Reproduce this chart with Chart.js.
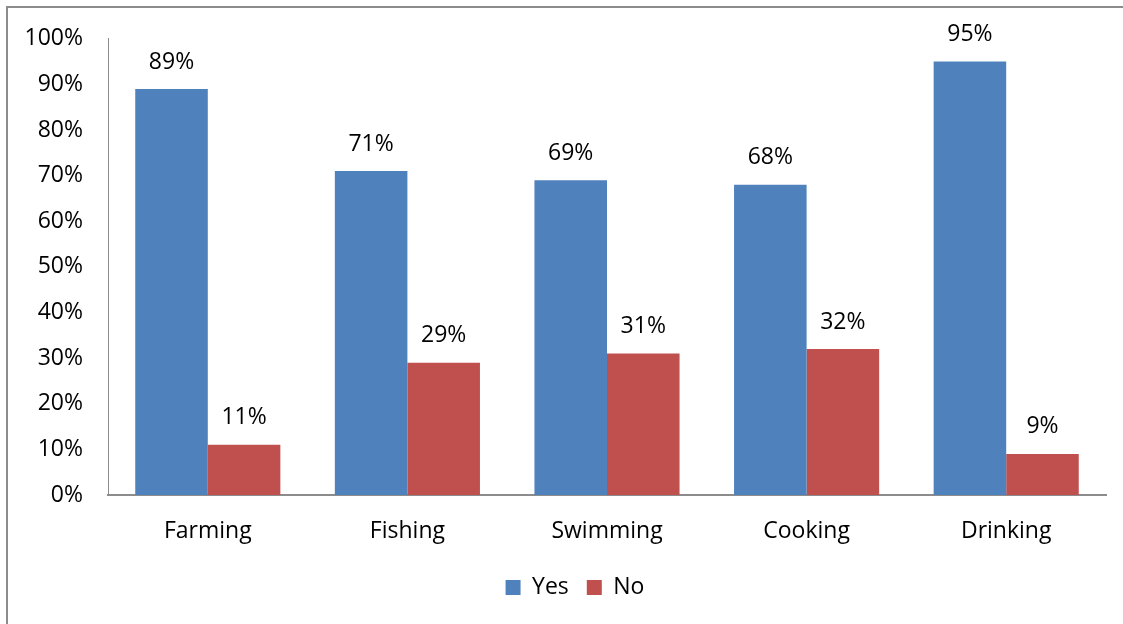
<!DOCTYPE html>
<html>
<head>
<meta charset="utf-8">
<script src="https://cdn.jsdelivr.net/npm/chart.js@4/dist/chart.umd.min.js"></script>
<style>
  body { margin: 0; background: #fff; }
  #wrap { position: relative; width: 1123px; height: 624px; }
  #frame { position: absolute; left: 6px; top: 6px; right: 0; bottom: -5px;
           border-left: 2px solid #8c8c8c; border-top: 2px solid #8c8c8c; pointer-events: none; }
  canvas { position: absolute; left: 0; top: 0; }
</style>
</head>
<body>
<div id="wrap">
  <canvas id="myChart" width="1123" height="624"></canvas>
  <div id="frame"></div>
</div>
<script>
// values
const categories = ['Farming', 'Fishing', 'Swimming', 'Cooking', 'Drinking'];
const yesValues = [89, 71, 69, 68, 95];
const noValues = [11, 29, 31, 32, 9];
const yTicks = [0, 10, 20, 30, 40, 50, 60, 70, 80, 90, 100];

const FONT = { family: "'Open Sans', sans-serif", size: 23 };

// draws the % above each bar
const valueLabels = {
  id: 'valueLabels',
  afterDatasetsDraw(chart) {
    const ctx = chart.ctx;
    ctx.save();
    ctx.font = FONT.size + 'px ' + FONT.family;
    ctx.fillStyle = '#000';
    ctx.textAlign = 'center';
    ctx.textBaseline = 'middle';
    chart.data.datasets.forEach((ds, i) => {
      chart.getDatasetMeta(i).data.forEach((bar, j) => {
        ctx.fillText(ds.data[j] + '%', bar.x, bar.y - 27);
      });
    });
    ctx.restore();
  }
};

// legend in the original sits a bit right of the canvas centre
const legendShift = {
  id: 'legendShift',
  afterLayout(chart) {
    if (chart.legend) {
      chart.legend.left += 44;
      chart.legend.right += 0;
    }
  }
};

new Chart(document.getElementById('myChart'), {
  type: 'bar',
  data: {
    labels: categories,
    datasets: [
      { label: 'Yes', data: yesValues, backgroundColor: '#4F81BD' },
      { label: 'No', data: noValues, backgroundColor: '#C0504D' }
    ]
  },
  options: {
    responsive: false,
    animation: false,
    events: [],
    barPercentage: 1,
    categoryPercentage: 0.727,
    layout: { padding: { left: 0, right: 17, top: 37, bottom: 15 } },
    scales: {
      x: {
        grid: { display: false, drawTicks: false },
        border: { display: true, color: '#8c8c8c', width: 2 },
        ticks: { color: '#000', font: FONT, padding: 23 },
        afterFit(scale) { scale.height = 63; }
      },
      y: {
        min: 0,
        max: 100,
        afterBuildTicks(scale) { scale.ticks = yTicks.map(v => ({ value: v })); },
        grid: { display: false, drawTicks: false },
        border: { display: true, color: '#8c8c8c', width: 1 },
        ticks: { color: '#000', font: FONT, padding: 25, callback: v => v + '%' },
        afterFit(scale) { scale.width = 108; }
      }
    },
    plugins: {
      legend: {
        position: 'bottom',
        labels: { color: '#000', font: FONT, boxWidth: 15, boxHeight: 15, padding: 18 }
      },
      tooltip: { enabled: false }
    }
  },
  plugins: [valueLabels, legendShift]
});
</script>
</body>
</html>
